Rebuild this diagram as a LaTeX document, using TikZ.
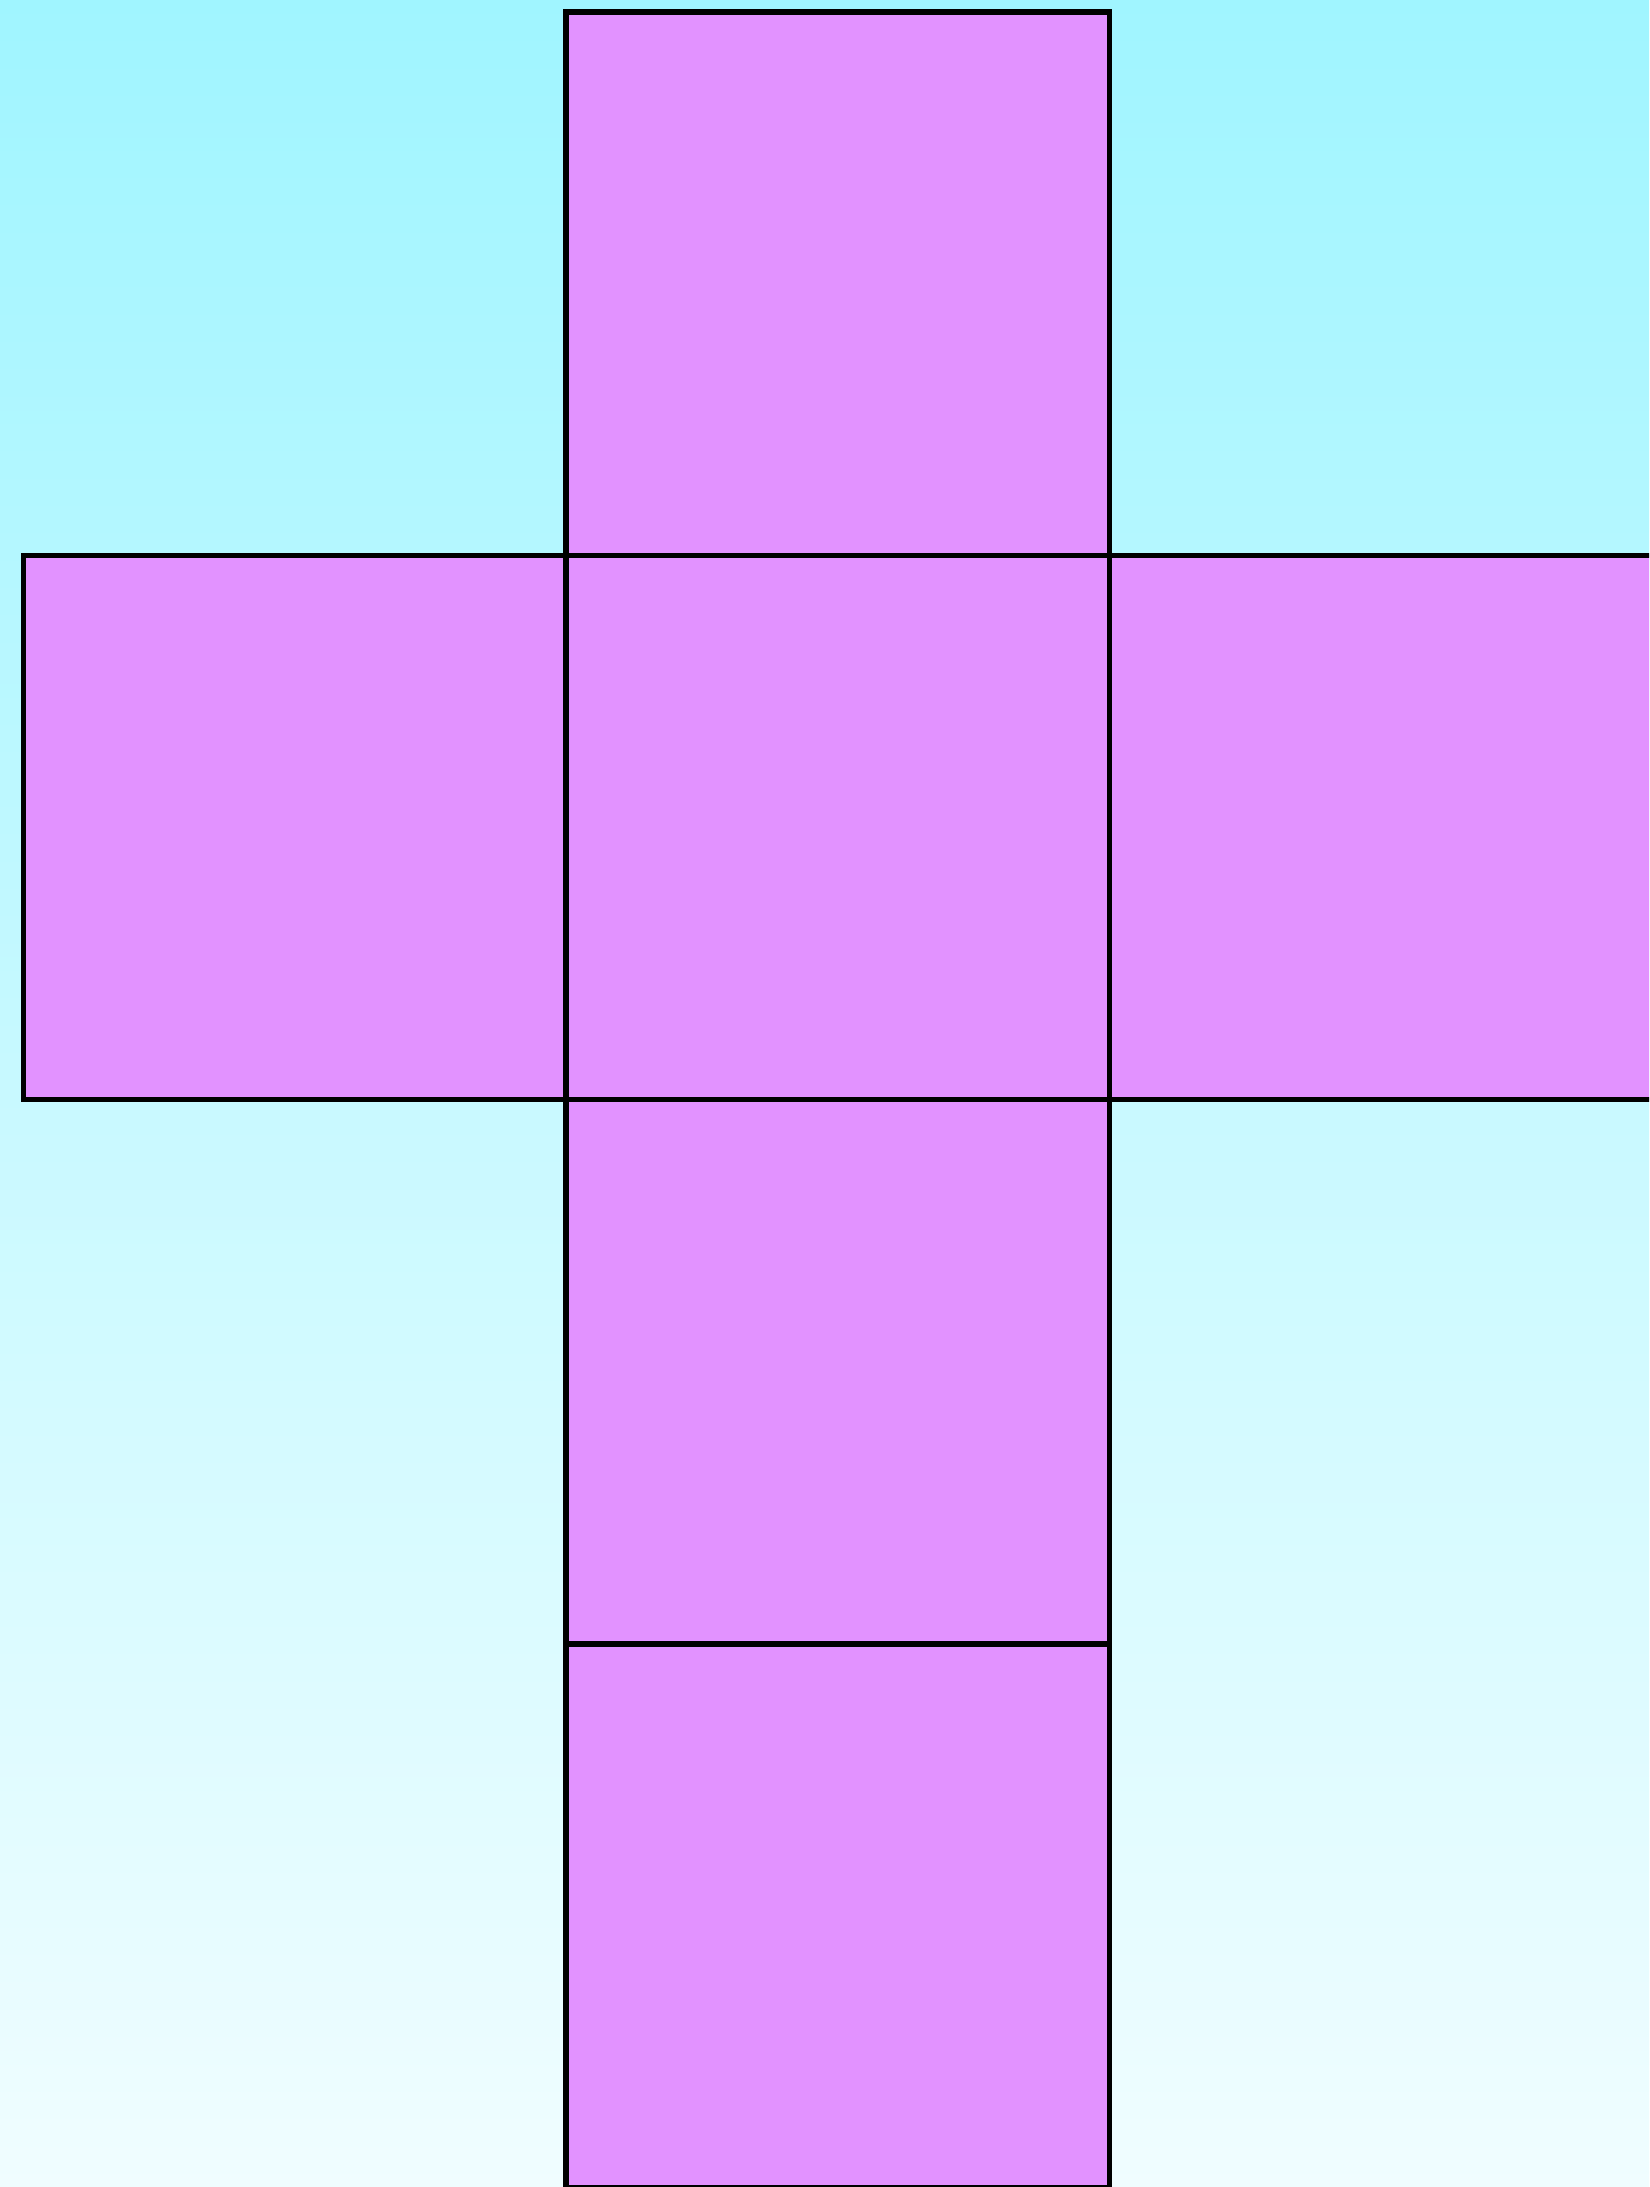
\documentclass[tikz,border=0pt]{standalone}
\definecolor{bgtop}{RGB}{160,245,255}
\definecolor{bgbot}{RGB}{240,253,255}
\definecolor{face}{RGB}{226,146,255}
\tikzset{facebox/.style={fill=face,draw=black,line width=2.75pt,line join=miter}}
\begin{document}
\begin{tikzpicture}[x=0.5pt,y=-0.5pt]
\useasboundingbox (0,0) rectangle (1649,2187);
\clip (0,0) rectangle (1649,2187);
\shade[top color=bgtop,bottom color=bgbot] (0,0) rectangle (1649,2187);
% cube net faces
\draw[facebox] (566,12) rectangle (1109.5,555.5);
\draw[facebox] (23.3,555.5) rectangle (566,1099.5);
\draw[facebox] (566,555.5) rectangle (1109.5,1099.5);
\draw[facebox] (1109.5,555.5) rectangle (1653,1099.5);
\draw[facebox] (566,1099.5) rectangle (1109.5,1644);
\draw[facebox] (566,1644) rectangle (1109.5,2187.5);
\end{tikzpicture}
\end{document}
